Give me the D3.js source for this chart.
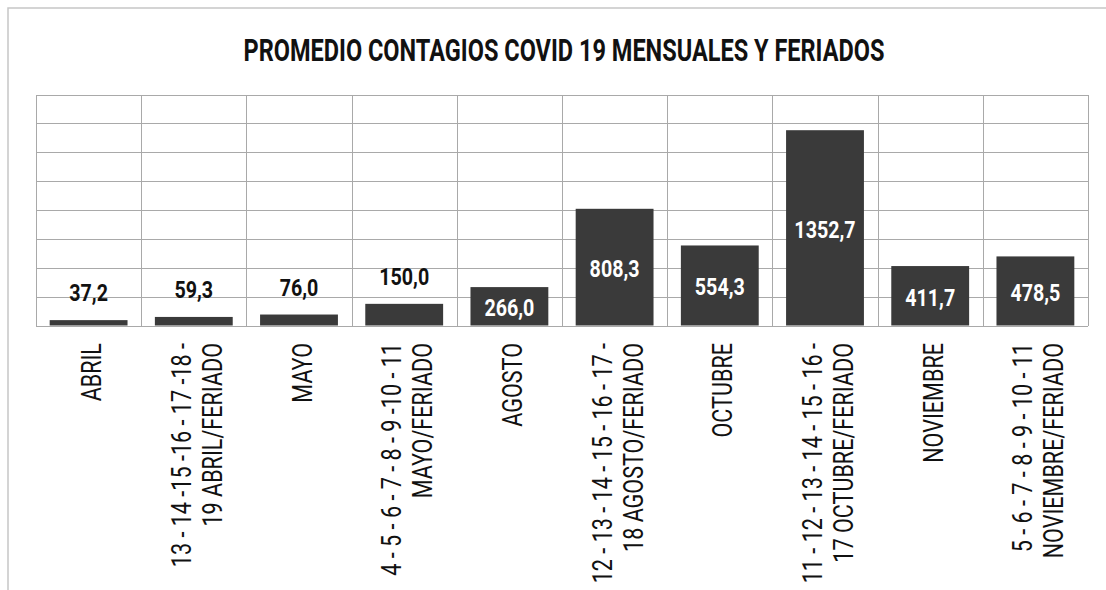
<!DOCTYPE html>
<html lang="es">
<head>
<meta charset="UTF-8">
<title>Promedio contagios COVID 19 mensuales y feriados</title>
<style>
  body { margin: 0; background: #fff; }
  text { font-family: "Liberation Sans Narrow", "Roboto", "DejaVu Sans Condensed", sans-serif; }
  .grid line { stroke: #a9a9a9; stroke-width: 1px; shape-rendering: crispEdges; }
  .frame { stroke: #c6c6c6; stroke-width: 1.5px; fill: none; }
  .bar { fill: #3a3a3a; }
</style>
</head>
<body>
<svg id="chart" width="1106" height="590"></svg>
<script src="https://cdn.jsdelivr.net/npm/d3@7/dist/d3.min.js"></script>
<script>
var title = "PROMEDIO CONTAGIOS COVID 19 MENSUALES Y FERIADOS";

var categories = [
    "ABRIL",
    "13 - 14 -15 -16 - 17 -18 -\n19 ABRIL/FERIADO",
    "MAYO",
    "4 - 5 - 6 - 7 - 8 - 9 -10 - 11\nMAYO/FERIADO",
    "AGOSTO",
    "12 - 13 - 14 - 15 - 16 - 17 -\n18 AGOSTO/FERIADO",
    "OCTUBRE",
    "11 - 12 - 13 - 14 - 15 - 16 -\n17 OCTUBRE/FERIADO",
    "NOVIEMBRE",
    "5 - 6 - 7 - 8 - 9 - 10 - 11\nNOVIEMBRE/FERIADO"
];

var values = [37.2, 59.3, 76.0, 150.0, 266.0, 808.3, 554.3, 1352.7, 411.7, 478.5];

var yTicks = [0, 200, 400, 600, 800, 1000, 1200, 1400, 1600];

var svg = d3.select("#chart");

var plot = { left: 36, right: 1088, top: 94.5, bottom: 325.5 };

var x = d3.scaleBand()
    .domain(categories)
    .range([plot.left, plot.right])
    .paddingInner(0.26)
    .paddingOuter(0.13);

var y = d3.scaleLinear()
    .domain([0, 1600])
    .range([plot.bottom, plot.top]);

var fmt = function (v) { return d3.format(".1f")(v).replace(".", ","); };

// outer frame of the scanned figure
svg.append("path")
    .attr("class", "frame")
    .attr("d", "M8,590V8H1106");

// title
svg.append("text")
    .attr("x", 564)
    .attr("y", 61)
    .attr("text-anchor", "middle")
    .attr("font-weight", "bold")
    .attr("font-size", 31)
    .attr("fill", "#111")
    .attr("textLength", 641)
    .attr("lengthAdjust", "spacingAndGlyphs")
    .text(title);

// grid
var grid = svg.append("g").attr("class", "grid");

grid.selectAll("line.h")
    .data(yTicks)
    .enter().append("line")
    .attr("class", "h")
    .attr("x1", plot.left)
    .attr("x2", plot.right)
    .attr("y1", function (d) { return Math.round(y(d)) + 0.5; })
    .attr("y2", function (d) { return Math.round(y(d)) + 0.5; });

var edges = categories.map(function (c) { return x(c) - x.step() * x.paddingInner() / 2; });
edges.push(plot.right);

grid.selectAll("line.v")
    .data(edges)
    .enter().append("line")
    .attr("class", "v")
    .attr("x1", function (d) { return Math.round(d) + 0.5; })
    .attr("x2", function (d) { return Math.round(d) + 0.5; })
    .attr("y1", y(1600))
    .attr("y2", y(0));

// bars
var data = categories.map(function (c, i) { return { cat: c, value: values[i] }; });

svg.selectAll("rect.bar")
    .data(data)
    .enter().append("rect")
    .attr("class", "bar")
    .attr("x", function (d) { return x(d.cat); })
    .attr("width", x.bandwidth())
    .attr("y", function (d) { return y(d.value); })
    .attr("height", function (d) { return y(0) - y(d.value); });

// value labels: small bars get them above, the rest inside in white
svg.selectAll("text.val")
    .data(data)
    .enter().append("text")
    .attr("class", "val")
    .attr("text-anchor", "middle")
    .attr("font-weight", "bold")
    .attr("font-size", 24)
    .attr("fill", function (d) { return d.value < 200 ? "#111" : "#fff"; })
    .attr("transform", function (d) {
        var cx = x(d.cat) + x.bandwidth() / 2;
        var cy = d.value < 200 ? y(d.value) - 19 : (y(d.value) + y(0)) / 2 + 10;
        return "translate(" + cx + "," + cy + ") scale(0.82,1)";
    })
    .text(function (d) { return fmt(d.value); });

// category labels, rotated
var ticks = svg.selectAll("g.tick")
    .data(categories)
    .enter().append("g")
    .attr("class", "tick")
    .attr("transform", function (d) {
        return "translate(" + (x(d) + x.bandwidth() / 2 + 3) + ",343) rotate(-90) scale(0.8,1)";
    });

ticks.append("text")
    .attr("text-anchor", "end")
    .attr("font-size", 27)
    .attr("fill", "#111")
    .each(function (d) {
        var lines = d.split("\n");
        var t = d3.select(this);
        lines.forEach(function (ln, i) {
            t.append("tspan")
                .attr("x", 0)
                .attr("y", (i - (lines.length - 1) / 2) * 31 + 9.5)
                .text(ln);
        });
    });
</script>
</body>
</html>
